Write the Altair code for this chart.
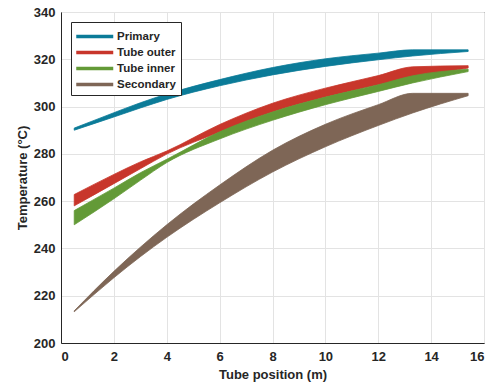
import altair as alt
import pandas as pd

# ---- data ----
positions = [0.5, 2, 3, 4, 6, 8, 10, 12, 13.3, 15.4]
series_names = ["Primary", "Tube outer", "Tube inner", "Secondary"]
series_colors = ["#0b7b98", "#c8362b", "#639a37", "#7e6656"]

primary_low = [290.0, 295.6, 299.4, 303.0, 308.8, 313.4, 317.0, 319.8, 321.4, 323.3]
primary_high = [290.9, 297.4, 301.6, 305.3, 311.4, 316.5, 320.2, 322.6, 324.0, 324.0]
outer_low = [258.0, 267.4, 273.7, 279.9, 289.2, 297.7, 304.0, 309.2, 312.2, 316.3]
outer_high = [262.8, 271.3, 276.6, 281.2, 292.4, 301.4, 307.8, 313.1, 316.8, 317.3]
inner_low = [250.0, 261.0, 268.8, 276.3, 286.3, 294.2, 300.8, 306.4, 310.0, 314.8]
inner_high = [256.0, 265.5, 272.0, 277.7, 289.3, 297.7, 304.0, 309.2, 313.0, 315.8]
secondary_low = [213.2, 227.6, 236.5, 244.7, 259.3, 272.3, 283.0, 292.0, 297.3, 304.6]
secondary_high = [213.6, 230.3, 240.5, 250.0, 266.8, 281.5, 292.5, 300.8, 305.6, 305.6]

lows = [primary_low, outer_low, inner_low, secondary_low]
highs = [primary_high, outer_high, inner_high, secondary_high]

rows = []
for name, lo, hi in zip(series_names, lows, highs):
    for x, a, b in zip(positions, lo, hi):
        rows.append({"series": name, "x": x, "low": a, "high": b})
df = pd.DataFrame(rows)

text_color = "#262626"
font = "Liberation Sans"

color_scale = alt.Scale(domain=series_names, range=series_colors)

chart = (
    alt.Chart(df)
    .mark_area(interpolate="monotone", strokeWidth=0.8, orient="vertical")
    .encode(
        x=alt.X(
            "x:Q",
            scale=alt.Scale(domain=[0, 16], nice=False),
            axis=alt.Axis(values=list(range(0, 17, 2)), title="Tube position (m)"),
        ),
        y=alt.Y(
            "low:Q",
            scale=alt.Scale(domain=[200, 340], nice=False, zero=False),
            axis=alt.Axis(values=list(range(200, 341, 20)), title="Temperature (°C)"),
        ),
        y2="high:Q",
        fill=alt.Fill(
            "series:N",
            scale=color_scale,
            sort=series_names,
            legend=alt.Legend(
                title=None,
                orient="none",
                legendX=10,
                legendY=10,
                symbolType="M-1,-0.2H3V0.2H-1Z",
                symbolSize=342,
                symbolStrokeWidth=0,
                labelFont=font,
                labelFontSize=11.5,
                labelFontWeight="bold",
                labelColor=text_color,
                strokeColor=text_color,
                fillColor="white",
                padding=5,
                rowPadding=1,
                labelOffset=22,
            ),
        ),
        stroke=alt.Stroke("series:N", scale=color_scale, sort=series_names, legend=None),
    )
    .properties(width=423, height=331)
)

chart = (
    chart.properties(
        autosize=alt.AutoSizeParams(type="none"),
        padding={"left": 61, "top": 12, "right": 8, "bottom": 42},
        background="white",
    )
    .configure_view(stroke=text_color, strokeWidth=1)
    .configure_axis(
        labelFont=font,
        labelFontSize=13,
        labelFontWeight="bold",
        labelColor=text_color,
        titleFont=font,
        titleFontSize=13,
        titleFontWeight="bold",
        titleColor=text_color,
        domainColor=text_color,
        ticks=False,
        gridColor="#e3e3e3",
        gridWidth=1,
    )
    .configure_axisX(labelPadding=7, titlePadding=5)
    .configure_axisY(labelPadding=6, titlePadding=4)
)

chart.save("out.html", embed_options={"renderer": "svg", "actions": False})
